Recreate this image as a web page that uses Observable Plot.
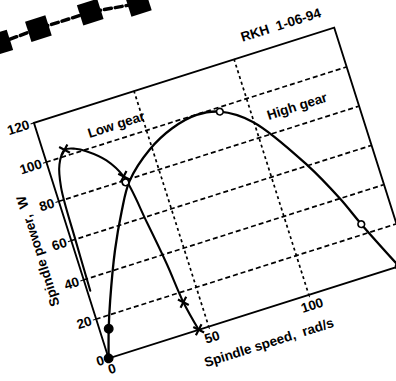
<!DOCTYPE html>
<html><head><meta charset="utf-8">
<script src="https://cdn.jsdelivr.net/npm/d3@7"></script>
<script src="https://cdn.jsdelivr.net/npm/@observablehq/plot@0.6"></script>
<style>
html,body{margin:0;padding:0;background:#fff;}
#wrap{position:relative;width:396px;height:381px;overflow:hidden;background:#fff;}
#wrap svg{position:absolute;left:48px;top:71px;transform-origin:60px 287px;transform:rotate(-17.6deg);overflow:visible;}
#wrap svg text{white-space:pre;}
</style></head><body><div id="wrap"></div>
<script>
// Low gear curve (spindle speed rad/s, power W)
const lowSpeed = [1.4, 2.0, 3.0, 5.6, 10, 15, 20, 27.5, 33, 37, 40, 42, 45];
const lowPower = [34, 60, 86, 97, 103, 102, 99, 92, 82, 57, 35, 15, 0];
const lowMarkSpeed = [10, 33, 42, 45];
const lowMarkPower = [103, 82, 15, 0];
// High gear curve
const highSpeed = [0, 4.3, 9, 18.4, 27, 35, 48.6, 62, 75, 86, 99.5, 118, 128, 134, 145];
const highPower = [0, 13.7, 26.5, 49, 66, 79, 90.6, 97.2, 99.8, 97.9, 88.3, 60.3, 40, 25, 0];
const highOpenSpeed = [33, 86, 134, 145];
const highOpenPower = [79, 97.9, 25, 0];
const highFillSpeed = [0, 4.3];
const highFillPower = [0, 13.7];
// Fragment of a neighbouring figure visible at the top-left of the scan
const fragSpeed = [-4, 15.6, 41.5, 64.6];
const fragPower = [162, 163, 163, 160];
// Tick values and labels
const xTicks = [0, 50, 100];
const yTicks = [0, 20, 40, 60, 80, 100, 120];
const xGrid = [50, 100];
const yGrid = [20, 40, 60, 80, 100];
const xLabel = "Spindle speed,  rad/s";
const yLabel = "Spindle power,  W";
const gearText = ["Low gear", "High gear"];
const gearSpeed = [23, 107];
const gearPower = [107, 89];
const stampText = ["RKH  1-06-94"];
const stampSpeed = [146];
const stampPower = [129];

const low = lowSpeed.map((s, i) => ({s, p: lowPower[i]}));
const lowM = lowMarkSpeed.map((s, i) => ({s, p: lowMarkPower[i]}));
const high = highSpeed.map((s, i) => ({s, p: highPower[i]}));
const highO = highOpenSpeed.map((s, i) => ({s, p: highOpenPower[i]}));
const highF = highFillSpeed.map((s, i) => ({s, p: highFillPower[i]}));
const frag = fragSpeed.map((s, i) => ({s, p: fragPower[i]}));
const gears = gearText.map((t, i) => ({t, s: gearSpeed[i], p: gearPower[i]}));
const stamp = stampText.map((t, i) => ({t, s: stampSpeed[i], p: stampPower[i]}));

const plot = Plot.plot({
  width: 395, height: 337,
  marginLeft: 60, marginRight: 20, marginTop: 40, marginBottom: 50,
  style: {fontFamily: "'Liberation Sans', Arial, sans-serif", fontSize: "13px", fontWeight: "bold", color: "black", background: "transparent"},
  x: {domain: [0, 150]},
  y: {domain: [0, 120]},
  marks: [
    Plot.gridX(xGrid, {stroke: "black", strokeOpacity: 1, strokeWidth: 1.7, strokeDasharray: "3,3"}),
    Plot.gridY(yGrid, {stroke: "black", strokeOpacity: 1, strokeWidth: 1.7, strokeDasharray: "5,3"}),
    Plot.frame({stroke: "black", strokeWidth: 1.9}),
    Plot.axisX({ticks: xTicks, tickSize: 3, tickPadding: 3, label: xLabel, labelAnchor: "center", labelArrow: "none", labelOffset: 38, fontSize: 13.5}),
    Plot.axisY({ticks: yTicks, tickSize: 3, tickPadding: 2, label: yLabel, labelAnchor: "center", labelArrow: "none", labelOffset: 40, fontSize: 13.5}),
    Plot.line(low, {x: "s", y: "p", curve: "catmull-rom", stroke: "black", strokeWidth: 2.1}),
    Plot.line(high, {x: "s", y: "p", curve: "catmull-rom", stroke: "black", strokeWidth: 2.3}),
    Plot.dot(lowM, {x: "s", y: "p", symbol: "times", r: 4, stroke: "black", strokeWidth: 2.2}),
    Plot.dot(highO, {x: "s", y: "p", r: 3.3, fill: "white", stroke: "black", strokeWidth: 1.7}),
    Plot.dot(highF, {x: "s", y: "p", r: 4.2, fill: "black", stroke: "black"}),
    Plot.line(frag, {x: "s", y: "p", stroke: "black", strokeWidth: 3.5, strokeDasharray: "7,4"}),
    Plot.dot(frag, {x: "s", y: "p", symbol: "square", r: 12, fill: "black"}),
    Plot.text(gears, {x: "s", y: "p", text: "t", textAnchor: "start", fontSize: 13.5, fontWeight: "bold", fill: "black"}),
    Plot.text(stamp, {x: "s", y: "p", text: "t", textAnchor: "end", fontSize: 13.5, fontWeight: "bold", fill: "black"})
  ]
});
document.getElementById("wrap").appendChild(plot);
</script>
</body></html>
